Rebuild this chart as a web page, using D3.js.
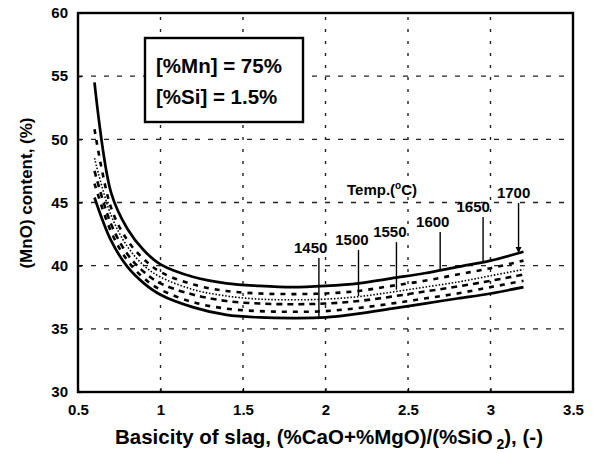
<!DOCTYPE html>
<html><head><meta charset="utf-8">
<script src="https://cdn.jsdelivr.net/npm/d3@7"></script>
<style>
html,body{margin:0;padding:0;background:#fff;}
svg text{font-family:"Liberation Sans",Arial,sans-serif;fill:#000;}
</style></head>
<body><svg id="c" width="594" height="453"></svg>
<script>
// ---- data ----
const basicity = [0.6,0.7,0.8,0.9,1.0,1.2,1.4,1.6,1.8,2.0,2.2,2.4,2.6,2.8,3.0,3.2];
const mno1700 = [54.5,45.8,42.9,41.2,40.1,39.1,38.6,38.4,38.3,38.4,38.6,39.0,39.4,39.9,40.4,41.1];
const mno1650 = [50.8,44.6,42.0,40.5,39.5,38.5,38.0,37.8,37.75,37.8,38.0,38.4,38.8,39.3,39.8,40.4];
const mno1600 = [48.5,44.0,41.5,40.0,39.1,38.1,37.6,37.35,37.3,37.35,37.55,37.9,38.3,38.7,39.2,39.7];
const mno1550 = [47.5,43.3,40.9,39.5,38.6,37.7,37.2,37.0,36.95,37.0,37.2,37.55,37.95,38.35,38.8,39.3];
const mno1500 = [46.5,42.7,40.4,39.0,38.1,37.1,36.6,36.4,36.35,36.4,36.65,37.0,37.4,37.8,38.3,38.8];
const mno1450 = [45.4,42.0,39.9,38.6,37.7,36.7,36.1,35.9,35.85,35.9,36.2,36.6,37.0,37.4,37.8,38.3];
const temperatures = ["1450","1500","1550","1600","1650","1700"];
const pointerX   = [1.96,2.2,2.43,2.695,2.955,3.17];
const labelX     = [1.91,2.16,2.39,2.65,2.895,3.14];
const pointerEnd = [35.9,37.6,38.1,39.7,40.3,41.0];
const labelY     = [41.0,41.63,42.26,43.06,44.24,45.35];
const xTicks = [0.5,1,1.5,2,2.5,3,3.5];
const yTicks = [30,35,40,45,50,55,60];

// ---- scales ----
const svg = d3.select("#c");
const x = d3.scaleLinear().domain([0.5,3.5]).range([78,573]);
const y = d3.scaleLinear().domain([30,60]).range([392,13]);

// grid
const g = svg.append("g");
g.selectAll(".vg").data(xTicks.slice(1,-1)).enter().append("line")
  .attr("x1",d=>x(d)).attr("x2",d=>x(d)).attr("y1",y(30)).attr("y2",y(60))
  .attr("stroke","#222").attr("stroke-width",1.4).attr("stroke-dasharray","3,9");
g.selectAll(".hg").data(yTicks.slice(1,-1)).enter().append("line")
  .attr("x1",x(0.5)).attr("x2",x(3.5)).attr("y1",d=>y(d)).attr("y2",d=>y(d))
  .attr("stroke","#222").attr("stroke-width",1.4).attr("stroke-dasharray","5,8");

// axes
const xAxis = d3.axisBottom(x).tickValues(xTicks).tickSize(-4).tickPadding(12).tickFormat(d3.format("~g"));
const yAxis = d3.axisLeft(y).tickValues(yTicks).tickSize(-4).tickPadding(10).tickFormat(d3.format("~g"));
const xa = svg.append("g").attr("transform",`translate(0,${y(30)})`).call(xAxis);
const ya = svg.append("g").attr("transform",`translate(${x(0.5)},0)`).call(yAxis);
[xa,ya].forEach(a=>{
  a.select(".domain").remove();
  a.selectAll("line").attr("stroke","#000").attr("stroke-width",1.2);
  a.selectAll("text").attr("font-size",15).attr("font-weight","bold").attr("fill","#000")
   .style("font-family","'Liberation Sans',Arial,sans-serif");
});

// frame
svg.append("rect").attr("x",x(0.5)).attr("y",y(60)).attr("width",x(3.5)-x(0.5)).attr("height",y(30)-y(60))
  .attr("fill","none").attr("stroke","#000").attr("stroke-width",2.4);

// curves
const line = d3.line().x((d,i)=>x(basicity[i])).y(d=>y(d)).curve(d3.curveCatmullRom.alpha(0.5));
const series = [
  {v:mno1700, w:2.7, dash:null},
  {v:mno1650, w:2.6, dash:"5,6"},
  {v:mno1600, w:1.6, dash:"1.5,1.8"},
  {v:mno1550, w:2.6, dash:"6,5"},
  {v:mno1500, w:2.6, dash:"5,6"},
  {v:mno1450, w:2.7, dash:null}
];
series.forEach(s=>{
  svg.append("path").attr("d",line(s.v)).attr("fill","none").attr("stroke","#000")
    .attr("stroke-width",s.w).attr("stroke-dasharray",s.dash);
});

// info box
svg.append("rect").attr("x",145).attr("y",38).attr("width",158).attr("height",84)
  .attr("fill","#fff").attr("stroke","#000").attr("stroke-width",2.4);
svg.append("text").attr("x",156).attr("y",73).attr("font-size",20.5).attr("font-weight","bold").text("[%Mn] = 75%");
svg.append("text").attr("x",156).attr("y",104).attr("font-size",20.5).attr("font-weight","bold").text("[%Si] = 1.5%");

// temperature label
const tl = svg.append("text").attr("x",347).attr("y",195).attr("font-size",15).attr("font-weight","bold");
tl.append("tspan").text("Temp.(");
tl.append("tspan").attr("font-size",10).attr("dy",-6).text("o");
tl.append("tspan").attr("dy",6).text("C)");

// pointers
temperatures.forEach((t,i)=>{
  svg.append("line").attr("x1",x(pointerX[i])).attr("x2",x(pointerX[i]))
    .attr("y1",y(labelY[i])+5).attr("y2",y(pointerEnd[i]))
    .attr("stroke","#000").attr("stroke-width",1.4);
  svg.append("text").attr("x",x(labelX[i])).attr("y",y(labelY[i]))
    .attr("text-anchor","middle").attr("font-size",15).attr("font-weight","bold").text(t);
});
// small arrow head on 1700
const i5 = 5;
svg.append("path").attr("d",d3.line()([[x(pointerX[i5])-3,y(pointerEnd[i5])-6],[x(pointerX[i5])+3,y(pointerEnd[i5])-6],[x(pointerX[i5]),y(pointerEnd[i5])]]))
  .attr("fill","#000");

// axis titles
svg.append("text").attr("x",329).attr("y",444).attr("text-anchor","middle").attr("font-size",20.5).attr("font-weight","bold")
  .html('Basicity of slag, (%CaO+%MgO)/(%SiO<tspan font-size="14" dy="5"> 2</tspan><tspan dy="-5">), (-)</tspan>');
svg.append("text").attr("transform","translate(32,193) rotate(-90)").attr("text-anchor","middle")
  .attr("font-size",17).attr("font-weight","bold").text("(MnO) content, (%)");
</script></body></html>
